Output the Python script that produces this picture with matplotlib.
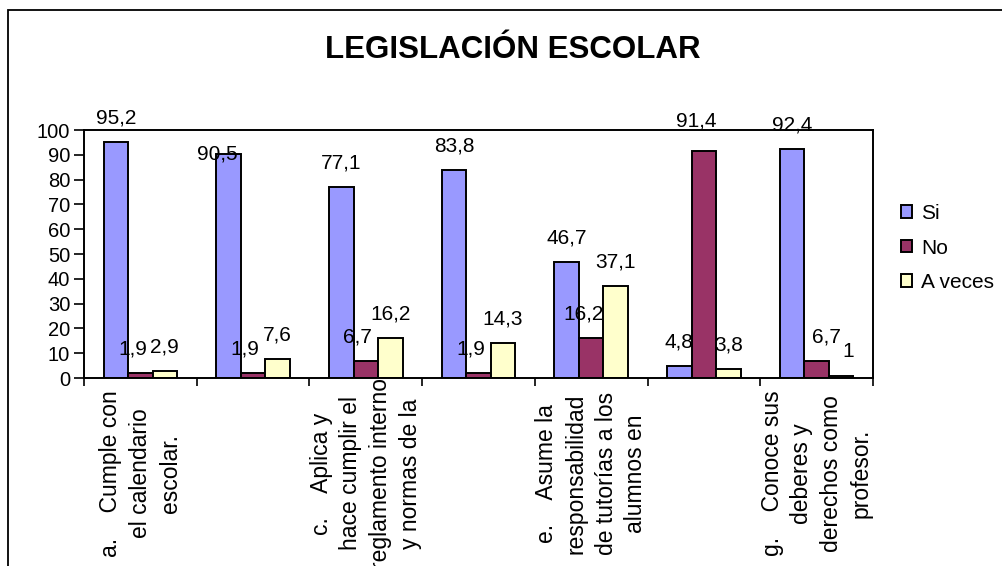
import matplotlib
matplotlib.use('Agg')
import matplotlib.pyplot as plt
import numpy as np
from matplotlib.patches import Patch, Rectangle

plt.rcParams['font.family'] = ['Liberation Sans', 'DejaVu Sans']

# data
categories = ['a.    Cumple con\nel calendario\nescolar.',
              '',
              'c.    Aplica y\nhace cumplir el\nreglamento interno\ny normas de la',
              '',
              'e.    Asume la\nresponsabilidad\nde tutorías a los\nalumnos en',
              '',
              'g.    Conoce sus\ndeberes y\nderechos como\nprofesor.']
series = ['Si', 'No', 'A veces']
si = [95.2, 90.5, 77.1, 83.8, 46.7, 4.8, 92.4]
no = [1.9, 1.9, 6.7, 1.9, 16.2, 91.4, 6.7]
a_veces = [2.9, 7.6, 16.2, 14.3, 37.1, 3.8, 1]
title = 'LEGISLACIÓN ESCOLAR'

colors = ['#9999FF', '#993366', '#FFFFCC']
# small manual nudges of data labels (pixels), as in the original sheet
label_dx = [0, -8, 0]
label_nudge = {(0, 1): (-11, -24), (1, 6): (18, 0), (1, 5): (0, 6), (2, 6): (7, 0)}

fig = plt.figure(figsize=(10.03, 5.66), dpi=100)
ax = fig.add_axes([84/1003, 1-378/566, 789/1003, 248/566])

n = len(si)
x = np.arange(n) + 0.5
bw = 0.2174
for k, vals in enumerate([si, no, a_veces]):
    pos = x + (k - 1) * bw
    ax.bar(pos, vals, width=bw, color=colors[k], edgecolor='black',
           linewidth=1.4, label=series[k])
    for i, v in enumerate(vals):
        dx, dy = label_nudge.get((k, i), (0, 0))
        ax.annotate('{:g}'.format(v).replace('.', ','), xy=(pos[i], v),
                    xytext=(label_dx[k] + dx, 24 + dy), textcoords='offset pixels',
                    ha='center', va='center', fontsize=15, annotation_clip=False)

ax.set_xlim(0, n)
ax.set_ylim(0, 100)
ax.set_yticks(np.arange(0, 101, 10))
ax.set_xticks(np.arange(0, n + 1))
ax.set_xticklabels([])
ax.tick_params(axis='y', direction='out', length=7, width=1.2, labelsize=14.5, pad=3)
ax.tick_params(axis='x', direction='out', length=6, width=1.2)
for s in ax.spines.values():
    s.set_linewidth(1.4)

for i, lab in enumerate(categories):
    if lab:
        ax.text(x[i], -0.385, lab, transform=ax.get_xaxis_transform(),
                rotation=90, ha='center', va='center', multialignment='center',
                fontsize=16.5, linespacing=1.37, clip_on=False)

fig.text(513/1003, 1-50/566, title, ha='center', va='center',
         fontsize=22.5, fontweight='bold')

handles = [Patch(facecolor=c, edgecolor='black', linewidth=1.4) for c in colors]
fig.legend(handles, series, loc='center left', bbox_to_anchor=(901/1003, 1-248/566),
           frameon=False, fontsize=15, handlelength=0.55, handleheight=0.55,
           handletextpad=0.4, labelspacing=0.75, borderpad=0, borderaxespad=0)

fig.add_artist(Rectangle((8/1003, -0.1), 1.2, 1.1 - 10/566, transform=fig.transFigure,
                         fill=False, edgecolor='black', linewidth=1.3))

fig.savefig('out.png', dpi=100)
